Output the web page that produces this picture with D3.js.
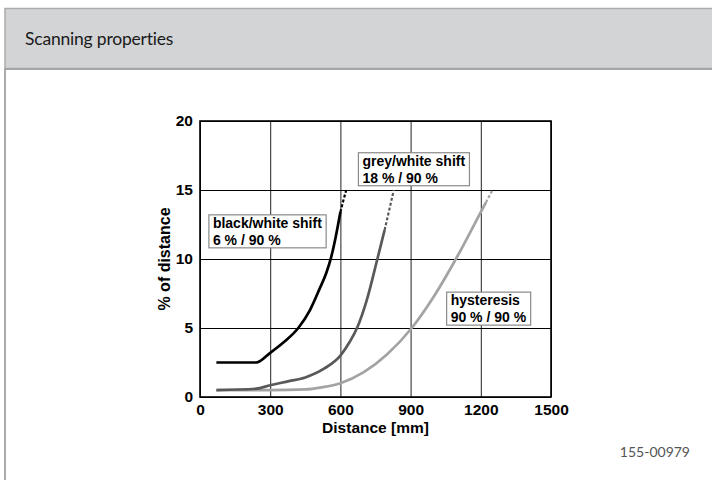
<!DOCTYPE html>
<html>
<head>
<meta charset="utf-8">
<script src="https://cdn.jsdelivr.net/npm/d3@7"></script>
<style>
    body { margin: 0; background: #fff; }
    svg { display: block; }
</style>
</head>
<body>
<div id="chart"></div>
<script>
// tick labels
const xTicks = [0, 300, 600, 900, 1200, 1500];
const yTicks = [0, 5, 10, 15, 20];

// black/white shift 6 % / 90 %
const bwDist = [70, 240, 300, 360, 420, 470, 510, 540, 560, 580, 600];
const bwPct = [2.5, 2.5, 3.2, 4.0, 5.0, 6.3, 7.8, 9.0, 10.1, 11.6, 13.4];
const bwTailDist = [600, 612, 625];
const bwTailPct = [13.4, 14.2, 15.0];

// grey/white shift 18 % / 90 %
const gwDist = [70, 240, 300, 380, 450, 530, 600, 640, 671, 714, 758, 789];
const gwPct = [0.5, 0.6, 0.85, 1.15, 1.42, 2.05, 3.0, 4.0, 5.0, 7.1, 10.0, 12.1];
const gwTailDist = [789, 808, 828];
const gwTailPct = [12.1, 13.5, 15.0];

// hysteresis 90 % / 90 %
const hyDist = [70, 300, 450, 520, 600, 700, 800, 905, 1000, 1100, 1200, 1222];
const hyPct = [0.5, 0.5, 0.55, 0.7, 1.0, 1.8, 3.1, 5.0, 7.3, 10.2, 13.4, 14.1];
const hyTailDist = [1222, 1236, 1250];
const hyTailPct = [14.1, 14.55, 15.0];

const seriesNames = ["black/white shift", "grey/white shift", "hysteresis"];
const seriesSub = ["6 % / 90 %", "18 % / 90 %", "90 % / 90 %"];
// where each label box sits, in data units (distance, %)
const labelDist = [38, 677, 1054];
const labelPct = [13.2, 17.7, 7.6];

const title = "Scanning properties";
const docNo = "155-00979";

const W = 712, H = 480;
const margin = {top: 121, right: 161, bottom: 83, left: 200};
const width = W - margin.left - margin.right;
const height = H - margin.top - margin.bottom;

const svg = d3.select("#chart")
    .append("svg")
    .attr("width", W)
    .attr("height", H);

// panel frame + header band
svg.append("rect")
    .attr("x", 5).attr("y", 69)
    .attr("width", W + 10).attr("height", H)
    .attr("fill", "#fff")
    .attr("stroke", "#aaabad")
    .attr("stroke-width", 2);
svg.append("rect")
    .attr("x", 5).attr("y", 8.5)
    .attr("width", W + 10).attr("height", 60)
    .attr("fill", "#d3d4d6")
    .attr("stroke", "#aaabad")
    .attr("stroke-width", 1.5);
svg.append("line")
    .attr("x1", 5).attr("x2", W)
    .attr("y1", 69).attr("y2", 69)
    .attr("stroke", "#a5a6a8")
    .attr("stroke-width", 2);

svg.append("text")
    .attr("x", 25).attr("y", 45)
    .attr("font-family", "Lato, 'Open Sans', sans-serif")
    .attr("font-size", "17.5px")
    .attr("letter-spacing", "-0.2px")
    .attr("fill", "#1a1a1a")
    .text(title);

svg.append("text")
    .attr("x", 690).attr("y", 457)
    .attr("text-anchor", "end")
    .attr("font-family", "Lato, 'Open Sans', sans-serif")
    .attr("font-size", "14px")
    .attr("fill", "#555")
    .text(docNo);

const g = svg.append("g")
    .attr("transform", "translate(" + margin.left + "," + margin.top + ")");

const x = d3.scaleLinear().domain([0, 1500]).range([0, width]);
const y = d3.scaleLinear().domain([0, 20]).range([height, 0]);

const font = "Liberation Sans, Arial, Helvetica, sans-serif";

// grid
g.append("g")
    .attr("class", "grid-x")
    .attr("transform", "translate(0," + height + ")")
    .call(d3.axisBottom(x).tickValues(xTicks).tickSize(-height).tickFormat(""))
    .call(s => s.select(".domain").remove())
    .selectAll("line")
    .attr("stroke", "#222")
    .attr("stroke-width", 1);

g.append("g")
    .attr("class", "grid-y")
    .call(d3.axisLeft(y).tickValues(yTicks).tickSize(-width).tickFormat(""))
    .call(s => s.select(".domain").remove())
    .selectAll("line")
    .attr("stroke", "#000")
    .attr("stroke-width", 1);

// axes labels
g.append("g")
    .attr("transform", "translate(0," + height + ")")
    .call(d3.axisBottom(x).tickValues(xTicks).tickSize(0).tickPadding(7).tickFormat(d3.format("d")))
    .call(s => s.select(".domain").remove())
    .selectAll("text")
    .attr("font-family", font)
    .attr("font-weight", "bold")
    .attr("font-size", "15.5px")
    .attr("fill", "#000");

g.append("g")
    .call(d3.axisLeft(y).tickValues(yTicks).tickSize(0).tickPadding(7))
    .call(s => s.select(".domain").remove())
    .selectAll("text")
    .attr("font-family", font)
    .attr("font-weight", "bold")
    .attr("font-size", "15.5px")
    .attr("fill", "#000");

g.append("rect")
    .attr("width", width)
    .attr("height", height)
    .attr("fill", "none")
    .attr("stroke", "#000")
    .attr("stroke-width", 1.6);

g.append("text")
    .attr("x", width / 2)
    .attr("y", height + 36)
    .attr("text-anchor", "middle")
    .attr("font-family", font)
    .attr("font-weight", "bold")
    .attr("font-size", "15.5px")
    .text("Distance [mm]");

g.append("text")
    .attr("transform", "rotate(-90)")
    .attr("x", -(y(10)))
    .attr("y", -30)
    .attr("text-anchor", "middle")
    .attr("font-family", font)
    .attr("font-weight", "bold")
    .attr("font-size", "16px")
    .text("% of distance");

// curves
const line = d3.line()
    .x(d => x(d[0]))
    .y(d => y(d[1]))
    .curve(d3.curveMonotoneX);

const curves = [
    {solid: d3.zip(bwDist, bwPct), tail: d3.zip(bwTailDist, bwTailPct), color: "#000"},
    {solid: d3.zip(gwDist, gwPct), tail: d3.zip(gwTailDist, gwTailPct), color: "#595959"},
    {solid: d3.zip(hyDist, hyPct), tail: d3.zip(hyTailDist, hyTailPct), color: "#a3a3a3"}
];

// draw light ones first so the black curve sits on top
curves.slice().reverse().forEach(c => {
    g.append("path")
        .datum(c.solid)
        .attr("d", line)
        .attr("fill", "none")
        .attr("stroke", c.color)
        .attr("stroke-width", 2.7);
    g.append("path")
        .datum(c.tail)
        .attr("d", line)
        .attr("fill", "none")
        .attr("stroke", c.color)
        .attr("stroke-width", 2.2)
        .attr("stroke-dasharray", "3,2");
});

// label boxes
seriesNames.forEach((name, i) => {
    const lg = g.append("g")
        .attr("transform", "translate(" + x(labelDist[i]) + "," + y(labelPct[i]) + ")");
    const box = lg.append("rect")
        .attr("fill", "#fff")
        .attr("stroke", "#8a8a8a")
        .attr("stroke-width", 1.2);
    const t = lg.append("text")
        .attr("font-family", font)
        .attr("font-weight", "bold")
        .attr("font-size", "14px")
        .attr("fill", "#000");
    t.append("tspan").attr("x", 4).attr("y", 13).text(name);
    t.append("tspan").attr("x", 4).attr("y", 30).text(seriesSub[i]);
    const bb = t.node().getBBox();
    box.attr("width", bb.width + 8).attr("height", 33);
});
</script>
</body>
</html>
